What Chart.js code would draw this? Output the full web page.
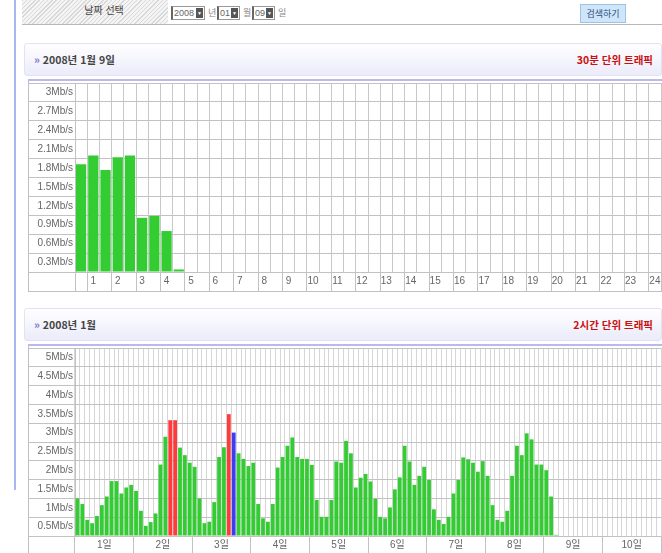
<!DOCTYPE html>
<html lang="ko">
<head>
<meta charset="utf-8">
<script src="https://cdn.jsdelivr.net/npm/chart.js@4.4.1/dist/chart.umd.min.js"></script>
<style>
  body { margin: 0; width: 662px; height: 553px; overflow: hidden; background: #fff; position: relative;
         font-family: "Noto Sans CJK KR", "Liberation Sans", sans-serif; color: #333; }
  .abs { position: absolute; }
  #sideLine { left: 14px; top: 0; width: 2px; height: 490px; background: #a9b6f2; }
  #formRow { left: 22px; top: 0; width: 640px; height: 24px; border-bottom: 1px solid #b8b8b8; }
  #dateLabel { left: 0; top: 0; width: 146px; height: 24px; font-size: 10px; line-height: 20px;
               text-align: center; text-indent: 18px; color: #444;
               background: repeating-linear-gradient(135deg, #d8d8d8 0 1px, #f4f4f4 1px 3px); }
  .sel { position: absolute; top: 6px; height: 14px; border: 1px solid #999; border-left: 2px solid #666;
         background: #fff; font-family: "Liberation Sans", sans-serif; font-size: 9px; line-height: 12px;
         color: #666; padding-left: 1px; box-sizing: border-box; }
  .arr { position: absolute; right: 1px; top: 1px; width: 7px; height: 10px; background: #555;
         color: #fff; font-size: 5px; line-height: 10px; text-align: center; }
  .unit { position: absolute; top: 6px; font-size: 9px; line-height: 14px; color: #888; }
  #searchBtn { left: 558px; top: 4px; width: 44px; height: 17px; background: #cfe6fa; border: 1px solid #9fc3e0;
               font-size: 9px; line-height: 17px; text-align: center; color: #2c4c7c; }
  .head { left: 24px; width: 636px; height: 31px; border: 1px solid #e2e2f6; border-radius: 3px;
          background: linear-gradient(#ffffff, #ebebfa); font-size: 10.5px; font-weight: bold; line-height: 31px; }
  .head .l { position: absolute; left: 9px; color: #444; }
  .head .l b { color: #7b7bd0; }
  .head .r { position: absolute; right: 8px; color: #cc1010; }
  .topLine { left: 28px; width: 634px; height: 2px; background: #b9b9f0; }
  .vLine { left: 28px; width: 1px; background: #c0c0c0; }
  .hLine { left: 28px; width: 634px; height: 1px; background: #c0c0c0; }
</style>
</head>
<body>
<div class="abs" id="sideLine"></div>
<div class="abs" id="formRow">
  <div class="abs" id="dateLabel">날짜 선택</div>
  <div class="sel" style="left:149px;width:34px">2008<span class="arr">▼</span></div>
  <span class="unit" style="left:186px">년</span>
  <div class="sel" style="left:195px;width:23px">01<span class="arr">▼</span></div>
  <span class="unit" style="left:221px">월</span>
  <div class="sel" style="left:230px;width:23px">09<span class="arr">▼</span></div>
  <span class="unit" style="left:256px">일</span>
  <div class="abs" id="searchBtn">검색하기</div>
</div>

<div class="abs head" style="top:43px"><span class="l"><b>»</b> 2008년 1월 9일</span><span class="r">30분 단위 트래픽</span></div>
<div class="abs topLine" style="top:79px"></div>
<div class="abs vLine" style="top:81px;height:210px"></div>
<canvas id="dayChart" class="abs" style="left:28px;top:81px" width="634" height="210"></canvas>
<div class="abs hLine" style="top:291px"></div>

<div class="abs head" style="top:308px"><span class="l"><b>»</b> 2008년 1월</span><span class="r">2시간 단위 트래픽</span></div>
<div class="abs topLine" style="top:344px"></div>
<div class="abs vLine" style="top:346px;height:209px"></div>
<canvas id="monthChart" class="abs" style="left:28px;top:346px" width="634" height="209"></canvas>

<script>
// 2008-01-09, 30 minute slots (Mb/s)
const hourTicks = ["1", "2", "3", "4", "5", "6", "7", "8", "9", "10", "11", "12",
                   "13", "14", "15", "16", "17", "18", "19", "20", "21", "22", "23", "24"];
const dayTraffic = [1.71, 1.85, 1.62, 1.82, 1.85, 0.86, 0.89, 0.65, 0.04];
const dayYTicks = ["0.3Mb/s", "0.6Mb/s", "0.9Mb/s", "1.2Mb/s", "1.5Mb/s",
                   "1.8Mb/s", "2.1Mb/s", "2.4Mb/s", "2.7Mb/s", "3Mb/s"];

// 2008-01, 2 hour slots (Mb/s)
const dayTicks = ["1일", "2일", "3일", "4일", "5일", "6일", "7일", "8일", "9일", "10일"];
const monthTraffic = [
  1.0, 0.85, 0.43, 0.34, 0.53, 0.82, 1.05, 1.46, 1.46, 1.13, 1.29, 1.36,
  1.2, 0.67, 0.27, 0.37, 0.6, 1.9, 2.64, 3.08, 3.08, 2.35, 2.15, 1.95,
  1.84, 1.0, 0.34, 0.38, 0.9, 2.1, 2.36, 3.24, 2.75, 2.2, 2.05, 1.86,
  1.95, 0.85, 0.47, 0.38, 0.85, 1.82, 2.1, 2.4, 2.62, 2.1, 2.05, 2.05,
  1.89, 0.96, 0.51, 0.51, 0.96, 1.98, 1.95, 2.53, 2.2, 1.29, 1.55, 1.65,
  1.45, 0.99, 0.51, 0.47, 0.76, 1.24, 1.56, 2.4, 1.98, 1.36, 1.6, 1.84,
  1.49, 0.71, 0.43, 0.32, 0.51, 1.13, 1.49, 2.09, 2.04, 1.95, 1.71, 1.99,
  1.6, 0.82, 0.43, 0.38, 0.67, 1.6, 2.4, 2.15, 2.73, 2.57, 1.9, 1.9,
  1.75, 1.05, 0.03
];
const monthYTicks = ["0.5Mb/s", "1Mb/s", "1.5Mb/s", "2Mb/s", "2.5Mb/s",
                     "3Mb/s", "3.5Mb/s", "4Mb/s", "4.5Mb/s", "5Mb/s"];
const redSlots = [19, 20, 31];
const blueSlots = [32];

const GREEN = "#33cc33", RED = "#ff3b3b", BLUE = "#3c3cf0";
const LINE = "#c2c2c2";
const tickFont = { family: "'Liberation Sans', 'Noto Sans CJK KR', sans-serif", size: 10 };

// category slots
const halfHourSlots = [];
hourTicks.forEach(h => { halfHourSlots.push(h + ":00", h + ":30"); });
const twoHourSlots = [];
dayTicks.forEach(d => { for (let s = 0; s < 12; s++) twoHourSlots.push(d + " " + s * 2 + "시"); });

function makeChart(id, opt) {
  return new Chart(document.getElementById(id), {
    type: "bar",
    data: {
      labels: opt.labels,
      datasets: [{
        data: opt.values,
        backgroundColor: opt.colors,
        borderWidth: 0,
        barPercentage: opt.barPct,
        categoryPercentage: 1
      }]
    },
    options: {
      animation: false,
      responsive: false,
      layout: { padding: { top: 2, right: 1, left: 0, bottom: 0 } },
      plugins: { legend: { display: false }, tooltip: { enabled: false } },
      scales: {
        x: {
          grid: {
            color: opt.xGrid,
            offset: true,
            tickLength: 19,
            tickColor: ctx => (ctx.index === undefined || opt.sep(ctx.index)) ? LINE : "rgba(0,0,0,0)"
          },
          border: { display: true, color: LINE },
          ticks: {
            autoSkip: false, maxRotation: 0, minRotation: 0,
            padding: -15.5, labelOffset: opt.xOffset,
            color: "#666", font: tickFont,
            callback: (v, i) => opt.xLabel(i)
          },
          afterFit: s => { s.height = 19; }
        },
        y: {
          min: 0, max: opt.max,
          grid: { color: LINE, tickLength: 47 },
          border: { display: true, color: LINE },
          ticks: {
            stepSize: opt.step, padding: -45, labelOffset: 9.4,
            color: "#666", font: tickFont,
            callback: (v, i) => i === 0 ? "" : opt.yTicks[i - 1]
          },
          afterFit: s => { s.width = 47; }
        }
      }
    }
  });
}

makeChart("dayChart", {
  labels: halfHourSlots,
  values: dayTraffic,
  colors: GREEN,
  barPct: 0.84,
  xGrid: "#c8c8c8",
  sep: i => i % 2 === 1 || i === 0,
  xOffset: 0,
  xLabel: i => i % 2 === 1 ? hourTicks[(i - 1) / 2] : "",
  max: 3, step: 0.3,
  yTicks: dayYTicks
});

makeChart("monthChart", {
  labels: twoHourSlots,
  values: monthTraffic,
  colors: monthTraffic.map((v, i) => redSlots.includes(i) ? RED : blueSlots.includes(i) ? BLUE : GREEN),
  barPct: 0.78,
  xGrid: "#d6d6d6",
  sep: i => i % 12 === 0,
  xOffset: 2.44,
  xLabel: i => i % 12 === 5 ? dayTicks[(i - 5) / 12] : "",
  max: 5, step: 0.5,
  yTicks: monthYTicks
});
</script>
</body>
</html>
